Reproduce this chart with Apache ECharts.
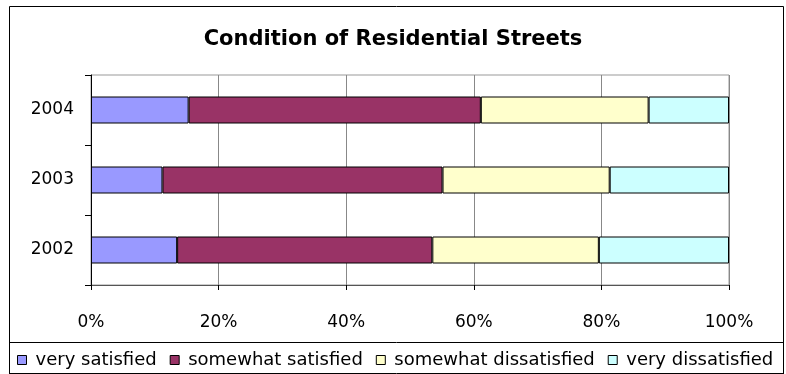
<!DOCTYPE html>
<html>
<head>
<meta charset="utf-8">
<script src="https://cdn.jsdelivr.net/npm/echarts@6/dist/echarts.min.js"></script>
<style>
  html, body { margin: 0; padding: 0; background: #fff; }
  #chart { width: 786px; height: 374px; }
</style>
</head>
<body>
<div id="chart"></div>
<script>
// Survey years, bottom to top
const years = ['2002', '2003', '2004'];

// Share of respondents (%) per rating, in year order
const verySatisfied = [13.5, 11.2, 15.3];
const somewhatSatisfied = [40.0, 43.9, 45.8];
const somewhatDissatisfied = [26.1, 26.2, 26.3];
const veryDissatisfied = [20.4, 18.7, 12.6];

const seriesNames = ['very satisfied', 'somewhat satisfied', 'somewhat dissatisfied', 'very dissatisfied'];
const seriesColors = ['#9999FF', '#993366', '#FFFFCC', '#CCFFFF'];
const seriesValues = [verySatisfied, somewhatSatisfied, somewhatDissatisfied, veryDissatisfied];

const font = 'DejaVu Sans, Verdana, sans-serif';
const chart = echarts.init(document.getElementById('chart'), null, { renderer: 'canvas' });

chart.setOption({
  animation: false,
  backgroundColor: '#fff',
  title: {
    text: 'Condition of Residential Streets',
    left: 'center',
    top: 24,
    textStyle: { fontFamily: font, fontSize: 21, fontWeight: 'bold', color: '#000' }
  },
  graphic: [
    // outer chart frame
    { type: 'rect', shape: { x: 9.5, y: 6.5, width: 774, height: 372 },
      style: { fill: null, stroke: '#000', lineWidth: 1 }, silent: true, z: -1 },
    // legend box
    { type: 'rect', shape: { x: 9.5, y: 342.5, width: 774, height: 31 },
      style: { fill: null, stroke: '#000', lineWidth: 1 }, silent: true, z: -1 }
  ],
  legend: {
    left: 12,
    top: 346,
    itemWidth: 9,
    itemHeight: 9,
    itemGap: 13,
    icon: 'rect',
    data: seriesNames.map((n) => ({ name: n, itemStyle: { borderColor: '#000', borderWidth: 1 } })),
    textStyle: { fontFamily: font, fontSize: 18, color: '#000', padding: [0, 0, 0, 4] }
  },
  grid: {
    left: 91, right: 57, top: 75, bottom: 89,
    show: true, borderColor: '#999', borderWidth: 1
  },
  xAxis: {
    type: 'value',
    min: 0, max: 100, interval: 20,
    axisLine: { show: true, lineStyle: { color: '#555', width: 1 } },
    axisTick: { show: true, length: 5, lineStyle: { color: '#000' } },
    axisLabel: { formatter: '{value}%', fontFamily: font, fontSize: 17, color: '#000', margin: 29 },
    splitLine: { show: true, lineStyle: { color: '#888', width: 1 } }
  },
  yAxis: {
    type: 'category',
    data: years,
    axisLine: { show: true, lineStyle: { color: '#000', width: 1 } },
    axisTick: { show: true, length: 6, lineStyle: { color: '#000' } },
    axisLabel: { fontFamily: font, fontSize: 17, color: '#000', margin: 17 }
  },
  series: seriesNames.map((name, i) => ({
    name: name,
    type: 'bar',
    stack: 'total',
    barWidth: 27,
    data: seriesValues[i],
    itemStyle: { color: seriesColors[i], borderColor: '#000', borderWidth: 1 }
  }))
});
</script>
</body>
</html>
